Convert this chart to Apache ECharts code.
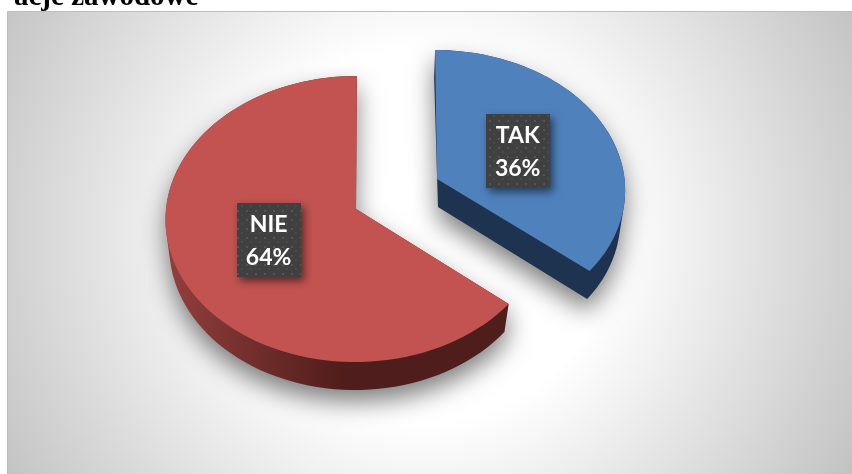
<!DOCTYPE html>
<html>
<head>
<meta charset="utf-8">
<style>html,body{margin:0;padding:0;background:#fff}#c{width:852px;height:474px}</style>
<script src="https://cdn.jsdelivr.net/npm/echarts@6/dist/echarts.min.js"></script>
</head>
<body>
<div id="c"></div>
<script>
var categories = ['TAK', 'NIE'];
var values = [36, 64];
var titleText = 'acje zawodowe';

// layout of each exploded slice
var layouts = [
  {ax: 437, ay: 179, rx: 187.5, ry: 138, tilt: 0.015, dx: 1, dy: 28, sx: 0.968, bottomTilt: 0.03, labelRadius: 0.485},
  {ax: 356, ay: 209, rx: 190, ry: 142.3, tilt: -0.006, dx: -1, dy: 28, sx: 0.975, bottomTilt: 0.0, labelRadius: 0.5}
];
var topColors = ['#4f81bd', '#c25351'];
var sideColors = [
  '#1e3350',
  {type: 'linear', x: 0, y: 0, x2: 1, y2: 0, colorStops: [
    {offset: 0, color: '#933f3c'}, {offset: 0.52, color: '#4f1d1b'}, {offset: 1, color: '#4f1d1b'}]}
];
var perspective = 0.07;

var total = values.reduce(function (a, b) { return a + b; }, 0);

function project(l, t, r, bottom) {
  var u = Math.sin(t) * r, v = Math.cos(t) * r, w = 1 + perspective * v;
  var x = l.rx * u / w, y = -l.ry * v / w;
  if (bottom) {
    return [l.ax + l.dx + x * l.sx + l.bottomTilt * y, l.ay + l.dy + y];
  }
  return [l.ax + x + l.tilt * y, l.ay + y];
}
function arcAngles(i) {
  var before = 0;
  for (var k = 0; k < i; k++) before += values[k];
  return [before / total * Math.PI * 2, (before + values[i]) / total * Math.PI * 2];
}
function sector(l, a, bottom) {
  var n = 90, pts = [project(l, 0, 0, bottom)];
  for (var i = 0; i <= n; i++) {
    pts.push(project(l, a[0] + (a[1] - a[0]) * i / n, 1, bottom));
  }
  return pts;
}
function subPath(p) {
  var area = 0;
  for (var i = 0; i < p.length; i++) {
    var q = p[(i + 1) % p.length];
    area += p[i][0] * q[1] - q[0] * p[i][1];
  }
  if (area < 0) p = p.slice().reverse();
  return 'M' + p.map(function (c) { return c[0].toFixed(2) + ' ' + c[1].toFixed(2); }).join('L') + 'Z';
}
function sweepPath(top, bot) {
  var d = subPath(top) + subPath(bot);
  for (var i = 0; i < top.length; i++) {
    var j = (i + 1) % top.length;
    d += subPath([top[i], top[j], bot[j], bot[i]]);
  }
  return d;
}
var dots = document.createElement('canvas');
dots.width = dots.height = 9;
(function () {
  var g = dots.getContext('2d');
  g.fillStyle = '#404040'; g.fillRect(0, 0, 9, 9);
  g.fillStyle = '#555555'; g.fillRect(3, 3, 2, 2);
  g.fillStyle = '#4a4a4a'; g.fillRect(7, 7, 2, 2);
})();

function renderSlice(params, api) {
  var i = params.dataIndex, l = layouts[i], a = arcAngles(i);
  var top = sector(l, a, false), bot = sector(l, a, true);
  var mid = (a[0] + a[1]) / 2;
  var c = project(l, mid, l.labelRadius, false);
  var pct = Math.round(api.value(0) / total * 100) + '%';
  return {
    type: 'group',
    children: [
      {type: 'path', shape: {pathData: sweepPath(top, bot)},
       style: {fill: sideColors[i], shadowBlur: 24, shadowColor: 'rgba(0,0,0,0.5)', shadowOffsetY: 12}},
      {type: 'polygon', shape: {points: top}, style: {fill: topColors[i]}},
      {type: 'rect', shape: {x: Math.round(c[0]) - 32, y: Math.round(c[1]) - 37, width: 64, height: 74},
       style: {fill: {image: dots, repeat: 'repeat'}, shadowBlur: 8, shadowColor: 'rgba(0,0,0,0.55)', shadowOffsetX: 3, shadowOffsetY: 4}},
      {type: 'text', x: c[0], y: c[1] + 1,
       style: {text: categories[i] + '\n' + pct, fill: '#ffffff', font: '700 23px Lato', lineHeight: 33,
               align: 'center', verticalAlign: 'middle', textAlign: 'center', textVerticalAlign: 'middle'}}
    ]
  };
}

var chart = echarts.init(document.getElementById('c'), null, {renderer: 'canvas'});
chart.setOption({
  backgroundColor: '#ffffff',
  animation: false,
  graphic: [
    {type: 'rect', z: -10, shape: {x: 7.5, y: 11.5, width: 846, height: 464},
     style: {fill: {type: 'radial', x: 425, y: 235, r: 520, global: true, colorStops: [
       {offset: 0, color: '#ffffff'}, {offset: 0.36, color: '#ffffff'}, {offset: 1, color: '#bcbcbc'}]},
       stroke: '#bdbdbd', lineWidth: 1}},
    {type: 'text', z: 10, x: 14, y: -17,
     style: {text: titleText, fill: '#000000', font: '700 29px "Liberation Serif"'}}
  ],
  series: [{
    type: 'custom',
    coordinateSystem: 'none',
    silent: true,
    renderItem: renderSlice,
    data: values.map(function (v, i) { return {name: categories[i], value: [v]}; })
  }]
});
</script>
</body>
</html>
